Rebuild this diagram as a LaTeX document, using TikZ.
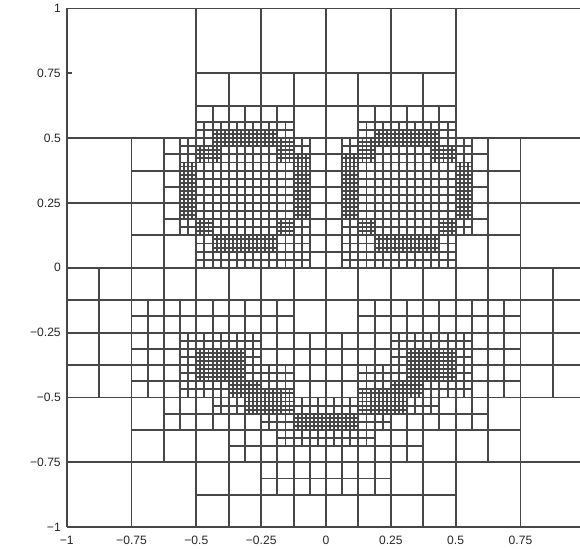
\documentclass[tikz,border=0pt]{standalone}
\usepackage{fontspec}
\setmainfont{Liberation Sans}
% path part: grid of the given step over [x1,x2]x[y1,y2] (right half) and its mirror image about u=64
\newcommand\mg[5]{(#2-0.02,#3-0.02) grid[step=#1] (#4+0.02,#5+0.02) (128-#4-0.02,#3-0.02) grid[step=#1] (128-#2+0.02,#5+0.02)}
\begin{document}
\begin{tikzpicture}[x=1mm,y=1mm,
  mesh/.style={line width=1.35pt, draw=black!72},
  lab/.style={font=\fontsize{8.5}{10}\selectfont, text=black!85, inner sep=0pt}]
\useasboundingbox (-16.46,-5.4) rectangle (126.69,130.1);
\fill[white] (-16.46,-5.4) rectangle (126.69,130.1);
\begin{scope}
\clip (-16.46,-5.4) rectangle (126.69,130.1);
\draw[mesh]
  % level 2
  (-0.02,-0.02) grid[step=32] (128.02,128.02)
  % level 3
  \mg{16}{64}{0}{96}{128}
  \mg{16}{96}{0}{128}{96}
  % level 4
  \mg{8}{64}{0}{96}{112}
  \mg{8}{96}{16}{112}{96}
  \mg{8}{112}{32}{128}{64}
  % level 5
  \mg{4}{72}{96}{96}{104}
  \mg{4}{64}{72}{104}{96}
  \mg{4}{64}{64}{96}{72}
  \mg{4}{72}{48}{112}{56}
  \mg{4}{64}{32}{112}{48}
  \mg{4}{64}{24}{104}{32}
  \mg{4}{64}{16}{88}{24}
  \mg{4}{64}{8}{80}{16}
  % level 6
  \mg{2}{72}{96}{96}{100}
  \mg{2}{68}{72}{100}{96}
  \mg{2}{68}{64}{96}{72}
  \mg{2}{72}{32}{100}{40}
  \mg{2}{80}{40}{100}{48}
  \mg{2}{64}{28}{92}{32}
  \mg{2}{64}{24}{80}{28}
  \mg{2}{64}{20}{76}{24}
  % level 7 : eyes
  \mg{1}{76}{94}{92}{98}
  \mg{1}{76}{68}{92}{72}
  \mg{1}{68}{76}{72}{92}
  \mg{1}{96}{76}{100}{90}
  \mg{1}{72}{90}{76}{96}
  \mg{1}{90}{90}{96}{94}
  \mg{1}{72}{72}{76}{76}
  \mg{1}{92}{72}{96}{76}
  % level 7 : mouth
  \mg{1}{84}{36}{96}{44}
  \mg{1}{80}{32}{88}{36}
  \mg{1}{72}{28}{84}{32}
  \mg{1}{72}{32}{80}{34}
  \mg{1}{64}{24}{72}{28}
  % tick
  (0,112) -- (1.3,112)
  ;
\end{scope}
% axis labels
\node[lab,anchor=east] (y8) at (-1.4,128) {1};
\node[lab,anchor=east] (y7) at (-1.4,112) {0.75};
\node[lab,anchor=east] (y6) at (-1.4,96) {0.5};
\node[lab,anchor=east] (y5) at (-1.4,80) {0.25};
\node[lab,anchor=east] (y4) at (-1.4,64) {0};
\node[lab,anchor=east] (y3) at (-1.4,48) {−0.25};
\node[lab,anchor=east] (y2) at (-1.4,32) {−0.5};
\node[lab,anchor=east] (y1) at (-1.4,16) {−0.75};
\node[lab,anchor=east] (y0) at (-1.4,0) {−1};
\node[lab] (x0) at (0,-3.3) {−1};
\node[lab] (x1) at (16,-3.3) {−0.75};
\node[lab] (x2) at (32,-3.3) {−0.5};
\node[lab] (x3) at (48,-3.3) {−0.25};
\node[lab] (x4) at (64,-3.3) {0};
\node[lab] (x5) at (80,-3.3) {0.25};
\node[lab] (x6) at (96,-3.3) {0.5};
\node[lab] (x7) at (112,-3.3) {0.75};
\end{tikzpicture}
\end{document}
